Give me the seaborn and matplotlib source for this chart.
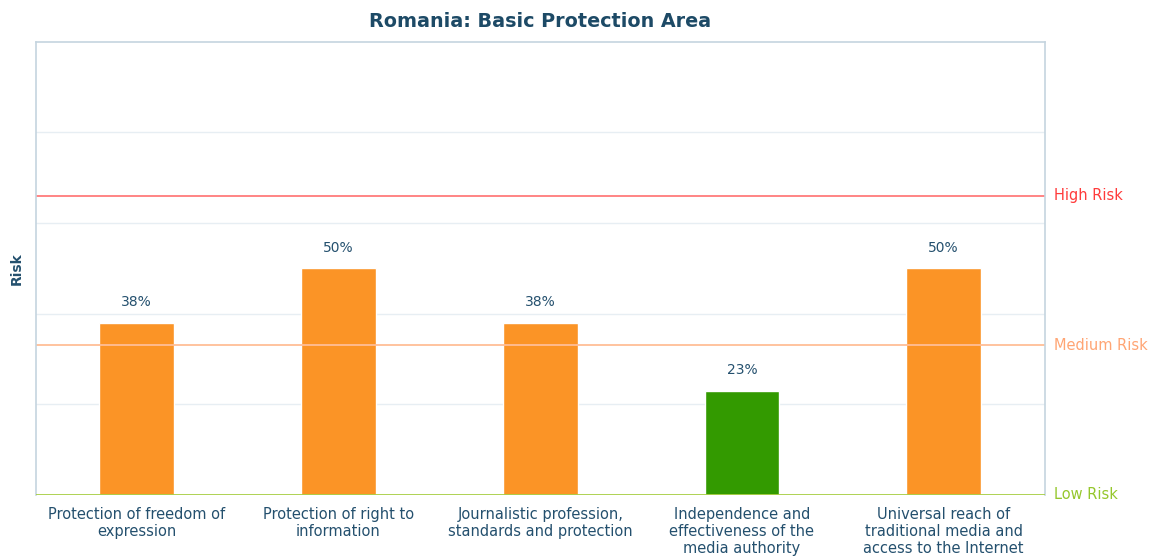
import matplotlib
matplotlib.use("Agg")
import matplotlib.pyplot as plt
import seaborn as sns
import pandas as pd

categories = [
    "Protection of freedom of\nexpression",
    "Protection of right to\ninformation",
    "Journalistic profession,\nstandards and protection",
    "Independence and\neffectiveness of the\nmedia authority",
    "Universal reach of\ntraditional media and\naccess to the Internet",
]
risk_values = [38, 50, 38, 23, 50]
risk_level = ["medium", "medium", "medium", "low", "medium"]
thresholds = {"High Risk": 66, "Medium Risk": 33, "Low Risk": 0}

sns.set_theme(style="white")
plt.rcParams["font.family"] = ["DejaVu Sans"]

palette = {"medium": "#fb9426", "low": "#339a00"}
text_col = "#24506e"

df = pd.DataFrame({"category": categories, "risk": risk_values, "level": risk_level})

fig, ax = plt.subplots(figsize=(11.53, 5.58), dpi=100)
fig.subplots_adjust(left=0.031, right=0.906, top=0.925, bottom=0.113)

sns.barplot(data=df, x="category", y="risk", hue="level", palette=palette,
            dodge=False, width=0.37, legend=False, ax=ax, saturation=1)

ax.set_ylim(0, 100)
ax.set_xlim(-0.5, len(categories) - 0.5)
ax.set_yticks([20, 40, 60, 80])
ax.set_yticklabels([])
ax.tick_params(axis="y", length=0)
ax.tick_params(axis="x", length=0, labelsize=10.5, labelcolor=text_col, pad=9)
for lbl in ax.get_xticklabels():
    lbl.set_linespacing(1.15)
ax.yaxis.grid(True, color="#e7eef3", linewidth=1)
ax.set_axisbelow(True)

for side in ["left", "top", "right"]:
    ax.spines[side].set_color("#c5d4df")
    ax.spines[side].set_linewidth(1.2)
ax.spines["bottom"].set_visible(False)

line_cols = {"High Risk": "#ff7b7b", "Medium Risk": "#ffbe96", "Low Risk": "#a8cf45"}
text_cols = {"High Risk": "#ff3b3b", "Medium Risk": "#ffa574", "Low Risk": "#95c72c"}
for name, val in thresholds.items():
    ax.axhline(val, color=line_cols[name], linewidth=1.3, zorder=3 if val == 0 else 1)
    ax.text(1.009, val, name, transform=ax.get_yaxis_transform(), color=text_cols[name],
            fontsize=10.5, va="center", ha="left", clip_on=False)

for i, v in enumerate(risk_values):
    ax.text(i, v + 3, f"{v}%", ha="center", va="bottom", fontsize=10, color=text_col)

ax.set_xlabel("")
ax.set_ylabel("Risk", fontsize=10, fontweight="bold", color=text_col, labelpad=5)
ax.set_title("Romania: Basic Protection Area", fontsize=13.8, fontweight="bold",
             color="#1d4a66", pad=11)

fig.savefig("out.png", dpi=100, facecolor="white")
